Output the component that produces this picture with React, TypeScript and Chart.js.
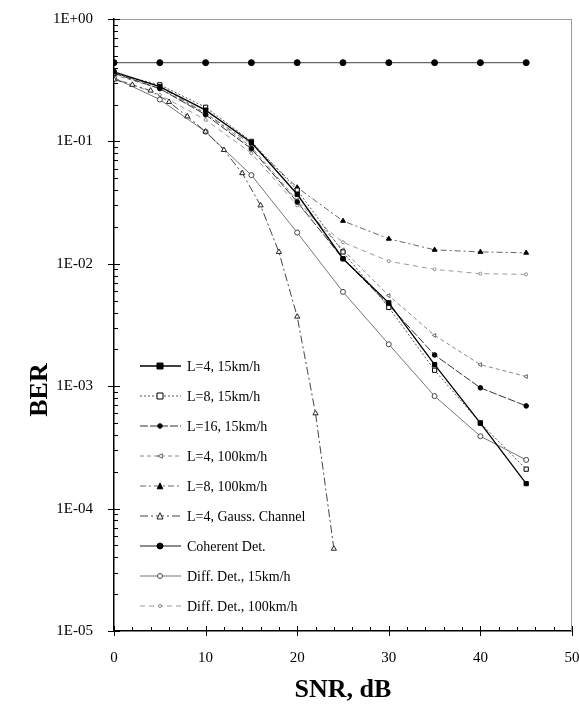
import React, { useEffect, useRef } from 'react';
import { Chart, registerables } from 'chart.js';

Chart.register(...registerables);

// ---- data ----
const SNR = [0, 5, 10, 15, 20, 25, 30, 35, 40, 45];
const SNR_GAUSS = [0, 2, 4, 6, 8, 10, 12, 14, 16, 18, 20, 22, 24];

const L4_15 = [0.37, 0.28, 0.18, 0.098, 0.037, 0.011, 0.0048, 0.0015, 0.0005, 0.00016];
const L8_15 = [0.36, 0.29, 0.19, 0.1, 0.04, 0.0125, 0.0044, 0.00135, 0.0005, 0.00021];
const L16_15 = [0.36, 0.27, 0.165, 0.087, 0.032, 0.011, 0.0046, 0.0018, 0.00097, 0.00069];
const L4_100 = [0.35, 0.27, 0.17, 0.09, 0.033, 0.013, 0.0055, 0.0026, 0.0015, 0.0012];
const L8_100 = [0.36, 0.28, 0.17, 0.095, 0.042, 0.0224, 0.016, 0.013, 0.0125, 0.0123];
const GAUSS = [0.32, 0.29, 0.26, 0.21, 0.16, 0.12, 0.085, 0.055, 0.03, 0.0125, 0.0037, 0.0006, 0.000047];
const COHERENT = [0.44, 0.44, 0.44, 0.44, 0.44, 0.44, 0.44, 0.44, 0.44, 0.44];
const DIFF_15 = [0.33, 0.22, 0.12, 0.053, 0.018, 0.0059, 0.0022, 0.00083, 0.00039, 0.00025];
const DIFF_100 = [0.33, 0.24, 0.15, 0.08, 0.03, 0.015, 0.0105, 0.009, 0.0083, 0.0082];

const LABELS = [
  'L=4, 15km/h',
  'L=8, 15km/h',
  'L=16, 15km/h',
  'L=4, 100km/h',
  'L=8, 100km/h',
  'L=4, Gauss. Channel',
  'Coherent Det.',
  'Diff. Det., 15km/h',
  'Diff. Det., 100km/h',
];

const X_TITLE = 'SNR, dB';
const Y_TITLE = 'BER';
const SERIF = '"Liberation Serif", "DejaVu Serif", serif';

const pts = (xs: number[], ys: number[]) => xs.map((x, i) => ({ x, y: ys[i] }));

function drawMarker(ctx: CanvasRenderingContext2D, style: string, x: number, y: number, r: number, fill: string, stroke: string, rot = 0) {
  if (r <= 0) return;
  ctx.save();
  ctx.setLineDash([]);
  ctx.fillStyle = fill;
  ctx.strokeStyle = stroke;
  ctx.lineWidth = 1;
  ctx.translate(x, y);
  ctx.rotate((rot * Math.PI) / 180);
  ctx.beginPath();
  if (style === 'rect') {
    ctx.rect(-r, -r, 2 * r, 2 * r);
  } else if (style === 'triangle') {
    ctx.moveTo(0, -r * 1.1);
    ctx.lineTo(r, r);
    ctx.lineTo(-r, r);
    ctx.closePath();
  } else {
    ctx.arc(0, 0, r, 0, Math.PI * 2);
  }
  ctx.fill();
  ctx.stroke();
  ctx.restore();
}

const decorPlugin = {
  id: 'decor',
  afterDraw(chart: any) {
    const { ctx, chartArea } = chart;
    const xs = chart.scales.x;
    const ys = chart.scales.y;
    const { left, right, top, bottom } = chartArea;
    ctx.save();
    // top / right frame (gray)
    ctx.strokeStyle = '#9a9a9a';
    ctx.lineWidth = 1;
    ctx.beginPath();
    ctx.moveTo(left, top + 0.5);
    ctx.lineTo(right, top + 0.5);
    ctx.moveTo(right - 0.5, top);
    ctx.lineTo(right - 0.5, bottom);
    ctx.stroke();

    // ticks
    ctx.strokeStyle = '#000';
    ctx.lineWidth = 1;
    ctx.beginPath();
    for (let v = 0; v <= 50; v += 2) {
      const px = Math.round(xs.getPixelForValue(v)) + 0.5;
      if (v % 10 === 0) {
        ctx.moveTo(px, bottom - 5);
        ctx.lineTo(px, bottom + 5);
      } else {
        ctx.moveTo(px, bottom - 4);
        ctx.lineTo(px, bottom);
      }
    }
    for (let d = -5; d <= 0; d++) {
      for (let k = 1; k <= 9; k++) {
        const val = k * Math.pow(10, d);
        if (val > 1.0000001) break;
        const py = Math.round(ys.getPixelForValue(val)) + 0.5;
        if (k === 1) {
          ctx.moveTo(left - 6, py);
          ctx.lineTo(left + 6, py);
        } else {
          ctx.moveTo(left, py);
          ctx.lineTo(left + 4, py);
        }
      }
    }
    ctx.stroke();

    // axis titles
    ctx.fillStyle = '#000';
    ctx.font = `bold 26px ${SERIF}`;
    ctx.textAlign = 'center';
    ctx.textBaseline = 'middle';
    ctx.fillText(X_TITLE, (left + right) / 2, 690);
    ctx.save();
    ctx.translate(40, 390);
    ctx.rotate(-Math.PI / 2);
    ctx.fillText(Y_TITLE, 0, 0);
    ctx.restore();

    // legend inside plot
    ctx.font = `14px ${SERIF}`;
    ctx.textAlign = 'left';
    chart.data.datasets.forEach((ds: any, i: number) => {
      const y = 366 + i * 30;
      ctx.save();
      ctx.strokeStyle = ds.borderColor;
      ctx.lineWidth = ds.borderWidth;
      ctx.setLineDash(ds.borderDash || []);
      ctx.beginPath();
      ctx.moveTo(140, y);
      ctx.lineTo(181, y);
      ctx.stroke();
      ctx.restore();
      drawMarker(ctx, ds.pointStyle, 160, y, ds.pointRadius, ds.pointBackgroundColor, ds.pointBorderColor, ds.pointRotation || 0);
      ctx.fillStyle = '#000';
      ctx.fillText(ds.label, 187, y + 1);
    });
    ctx.restore();
  },
};

export default function App() {
  const ref = useRef<HTMLCanvasElement | null>(null);
  useEffect(() => {
    if (!ref.current) return;
    const mk = (label: string, xs: number[], ys: number[], o: any) => ({
      label,
      data: pts(xs, ys),
      showLine: true,
      fill: false,
      tension: 0,
      pointBorderWidth: 1,
      ...o,
    });
    const datasets = [
      mk(LABELS[0], SNR, L4_15, { borderColor: '#000', borderWidth: 1.3, borderDash: [], pointStyle: 'rect', pointRadius: 3, pointBackgroundColor: '#000', pointBorderColor: '#000' }),
      mk(LABELS[1], SNR, L8_15, { borderColor: '#555', borderWidth: 1, borderDash: [2, 2], pointStyle: 'rect', pointRadius: 3, pointBackgroundColor: '#fff', pointBorderColor: '#000' }),
      mk(LABELS[2], SNR, L16_15, { borderColor: '#333', borderWidth: 1, borderDash: [8, 2], pointStyle: 'circle', pointRadius: 2.3, pointBackgroundColor: '#000', pointBorderColor: '#000' }),
      mk(LABELS[3], SNR, L4_100, { borderColor: '#888', borderWidth: 1, borderDash: [4, 3], pointStyle: 'triangle', pointRotation: -90, pointRadius: 2.3, pointBackgroundColor: '#fff', pointBorderColor: '#666' }),
      mk(LABELS[4], SNR, L8_100, { borderColor: '#666', borderWidth: 1, borderDash: [6, 3, 2, 3], pointStyle: 'triangle', pointRadius: 2.8, pointBackgroundColor: '#000', pointBorderColor: '#000' }),
      mk(LABELS[5], SNR_GAUSS, GAUSS, { borderColor: '#444', borderWidth: 1, borderDash: [8, 3, 2, 3], pointStyle: 'triangle', pointRadius: 3, pointBackgroundColor: '#fff', pointBorderColor: '#222' }),
      mk(LABELS[6], SNR, COHERENT, { borderColor: '#666', borderWidth: 1.3, borderDash: [], pointStyle: 'circle', pointRadius: 3, pointBackgroundColor: '#000', pointBorderColor: '#000' }),
      mk(LABELS[7], SNR, DIFF_15, { borderColor: '#777', borderWidth: 1, borderDash: [], pointStyle: 'circle', pointRadius: 2.5, pointBackgroundColor: '#fff', pointBorderColor: '#444' }),
      mk(LABELS[8], SNR, DIFF_100, { borderColor: '#999', borderWidth: 1, borderDash: [5, 4], pointStyle: 'circle', pointRadius: 1.5, pointBackgroundColor: '#fff', pointBorderColor: '#888' }),
    ];
    const chart = new Chart(ref.current, {
      type: 'scatter',
      data: { datasets },
      options: {
        responsive: false,
        animation: false,
        layout: { padding: { top: 19, right: 7, left: 0, bottom: 0 } },
        plugins: { legend: { display: false }, tooltip: { enabled: false }, title: { display: false } },
        scales: {
          x: {
            type: 'linear',
            min: 0,
            max: 50,
            grid: { display: false, drawTicks: false },
            border: { display: true, color: '#000', width: 1.5 },
            ticks: { stepSize: 10, color: '#000', padding: 18, font: { family: SERIF, size: 15 } },
            afterFit: (s: any) => { s.height = 75; s.paddingLeft = 0; s.paddingRight = 0; },
          },
          y: {
            type: 'logarithmic',
            min: 1e-5,
            max: 1,
            grid: { display: false, drawTicks: false },
            border: { display: true, color: '#000', width: 1.5 },
            ticks: {
              color: '#000',
              padding: 21,
              autoSkip: false,
              font: { family: SERIF, size: 15 },
              callback: (v: any) => {
                const l = Math.log10(Number(v));
                const e = Math.round(l);
                if (Math.abs(l - e) > 1e-6) return '';
                const a = Math.abs(e);
                return '1E' + (e >= 0 ? '+' : '-') + (a < 10 ? '0' : '') + a;
              },
            },
            afterFit: (s: any) => { s.width = 114; s.paddingTop = 0; s.paddingBottom = 0; },
          },
        },
      },
      plugins: [decorPlugin],
    } as any);
    return () => chart.destroy();
  }, []);
  return (
    <div style={{ position: 'absolute', left: 0, top: 0, width: 579, height: 706, background: '#fff' }}>
      <canvas ref={ref} width={579} height={706} style={{ display: 'block' }} />
    </div>
  );
}
